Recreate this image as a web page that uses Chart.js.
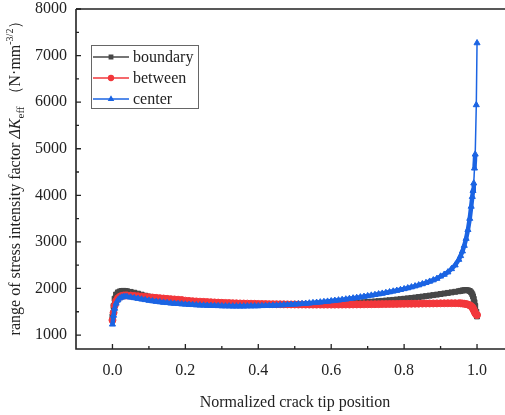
<!DOCTYPE html>
<html>
<head>
<meta charset="utf-8">
<script src="https://cdn.jsdelivr.net/npm/chart.js@4.4.1/dist/chart.umd.min.js"></script>
<style>
  html, body { margin: 0; padding: 0; background: #fff; }
  #wrap { width: 505px; height: 415px; }
</style>
</head>
<body>
<div id="wrap"><canvas id="myChart" width="505" height="415"></canvas></div>
<script>
// Crack tip positions (normalized), denser near both ends
const position = [
  0, 0.003, 0.006, 0.01, 0.015, 0.02, 0.025, 0.03, 0.035,
  0.04, 0.05, 0.06, 0.07, 0.08, 0.09,
  0.10, 0.11, 0.12, 0.13, 0.14, 0.15, 0.16, 0.17, 0.18, 0.19,
  0.20, 0.21, 0.22, 0.23, 0.24, 0.25, 0.26, 0.27, 0.28, 0.29,
  0.30, 0.31, 0.32, 0.33, 0.34, 0.35, 0.36, 0.37, 0.38, 0.39,
  0.40, 0.41, 0.42, 0.43, 0.44, 0.45, 0.46, 0.47, 0.48, 0.49,
  0.50, 0.51, 0.52, 0.53, 0.54, 0.55, 0.56, 0.57, 0.58, 0.59,
  0.60, 0.61, 0.62, 0.63, 0.64, 0.65, 0.66, 0.67, 0.68, 0.69,
  0.70, 0.71, 0.72, 0.73, 0.74, 0.75, 0.76, 0.77, 0.78, 0.79,
  0.80, 0.81, 0.82, 0.83, 0.84, 0.85, 0.86, 0.87, 0.88, 0.89,
  0.90, 0.91, 0.92, 0.93, 0.94, 0.95,
  0.955, 0.96, 0.965, 0.97, 0.975, 0.98, 0.984, 0.987, 0.989, 0.991, 0.993, 0.995, 0.998, 1.0
];

// range of stress intensity factor, N·mm^-3/2
const boundary = [
  1400, 1620, 1780, 1870, 1915, 1935, 1945, 1948, 1946,
  1940, 1926, 1908, 1888, 1866, 1844,
  1824, 1806, 1790, 1776, 1763, 1752, 1742, 1733, 1725, 1718,
  1712, 1706, 1701, 1696, 1692, 1688, 1684, 1681, 1678, 1675,
  1672, 1670, 1667, 1665, 1663, 1661, 1659, 1658, 1656, 1655,
  1654, 1653, 1652, 1651, 1650, 1650, 1649, 1649, 1649, 1649,
  1650, 1650, 1651, 1652, 1653, 1655, 1657, 1659, 1661, 1664,
  1667, 1670, 1673, 1677, 1681, 1685, 1689, 1694, 1699, 1704,
  1709, 1715, 1721, 1727, 1733, 1740, 1747, 1754, 1762, 1770,
  1778, 1787, 1796, 1805, 1815, 1825, 1835, 1846, 1857, 1868,
  1880, 1892, 1904, 1916, 1928, 1940,
  1948, 1956, 1962, 1964, 1960, 1945, 1915, 1875, 1830, 1775, 1705, 1625, 1500, 1400
];

const between = [
  1320, 1480, 1630, 1730, 1790, 1820, 1838, 1847, 1850,
  1850, 1846, 1840, 1833, 1826, 1819,
  1812, 1805, 1798, 1791, 1784, 1777, 1770, 1764, 1758, 1752,
  1738, 1732, 1726, 1721, 1716, 1712, 1708, 1704, 1700, 1696,
  1692, 1689, 1686, 1683, 1680, 1678, 1676, 1674, 1672, 1670,
  1668, 1666, 1665, 1663, 1662, 1661, 1660, 1659, 1658, 1657,
  1656, 1655, 1655, 1654, 1654, 1653, 1653, 1653, 1653, 1653,
  1653, 1653, 1654, 1654, 1655, 1655, 1656, 1657, 1658, 1659,
  1660, 1661, 1662, 1663, 1664, 1665, 1666, 1667, 1668, 1669,
  1670, 1671, 1672, 1673, 1674, 1675, 1676, 1677, 1678, 1679,
  1680, 1681, 1682, 1683, 1683, 1682,
  1680, 1677, 1672, 1665, 1655, 1640, 1620, 1595, 1570, 1540, 1505, 1470, 1440, 1430
];

const center = [
  1230, 1420, 1570, 1680, 1750, 1790, 1810, 1820, 1822,
  1820, 1810, 1797, 1783, 1769, 1755,
  1742, 1730, 1719, 1709, 1700, 1692, 1684, 1677, 1671, 1665,
  1659, 1654, 1649, 1645, 1641, 1637, 1634, 1631, 1628, 1626,
  1624, 1622, 1621, 1620, 1620, 1620, 1620, 1621, 1622, 1623,
  1625, 1627, 1629, 1632, 1635, 1638, 1642, 1646, 1650, 1655,
  1660, 1665, 1671, 1677, 1684, 1691, 1698, 1706, 1714, 1722,
  1731, 1740, 1749, 1759, 1769, 1780, 1791, 1802, 1814, 1826,
  1839, 1852, 1865, 1879, 1893, 1908, 1923, 1939, 1955, 1972,
  1990, 2009, 2029, 2050, 2072, 2096, 2122, 2150, 2180, 2212,
  2260, 2300, 2350, 2420, 2500, 2620,
  2700, 2800, 2920, 3070, 3260, 3500, 3760, 3970, 4100, 4260, 4580, 4880, 5940, 7270
];

const xTicks = [0, 0.2, 0.4, 0.6, 0.8, 1.0];
const xMinor = [0.1, 0.3, 0.5, 0.7, 0.9];
const yTicks = [1000, 2000, 3000, 4000, 5000, 6000, 7000, 8000];
const yMinor = [1500, 2500, 3500, 4500, 5500, 6500, 7500];

const serif = '"Liberation Serif", "DejaVu Serif", serif';
const ink = '#222';

// short segments sit inside a dense run of markers, so draw them wide
function segWidth(s) {
  const dx = s.p1.x - s.p0.x;
  const dy = s.p1.y - s.p0.y;
  return Math.sqrt(dx * dx + dy * dy) < 14 ? 4.5 : 1.5;
}

function series(label, values, color, style, order) {
  return {
    label: label,
    data: position.map((x, i) => ({ x: x, y: values[i] })),
    borderColor: color,
    backgroundColor: color,
    pointBackgroundColor: color,
    pointBorderColor: color,
    borderWidth: 1.5,
    segment: { borderWidth: segWidth },
    pointRadius: 3.5,
    pointBorderWidth: 1,
    pointStyle: style,
    order: order
  };
}

// axes frame, inward ticks, titles and boxed legend
const decorations = {
  id: 'decorations',
  afterDraw(chart) {
    const c = chart.ctx;
    const a = chart.chartArea;
    const xs = chart.scales.x;
    const ys = chart.scales.y;
    const w = chart.width;
    c.save();
    c.strokeStyle = ink;
    c.lineWidth = 1.6;
    c.beginPath();
    c.moveTo(a.left, a.top);
    c.lineTo(w, a.top);
    c.moveTo(a.left, a.top);
    c.lineTo(a.left, a.bottom);
    c.lineTo(w, a.bottom);
    c.stroke();

    c.lineWidth = 1.3;
    c.beginPath();
    xTicks.forEach(v => { const p = xs.getPixelForValue(v); c.moveTo(p, a.bottom); c.lineTo(p, a.bottom - 5); });
    xMinor.forEach(v => { const p = xs.getPixelForValue(v); c.moveTo(p, a.bottom); c.lineTo(p, a.bottom - 3); });
    yTicks.forEach(v => { const p = ys.getPixelForValue(v); c.moveTo(a.left, p); c.lineTo(a.left + 5, p); });
    yMinor.forEach(v => { const p = ys.getPixelForValue(v); c.moveTo(a.left, p); c.lineTo(a.left + 3, p); });
    c.stroke();

    // x title
    c.fillStyle = ink;
    c.font = '16px ' + serif;
    c.textAlign = 'center';
    c.textBaseline = 'middle';
    c.fillText('Normalized crack tip position', 295, 403);

    // y title with italic symbol, subscript and superscript
    const parts = [
      { t: 'range of stress intensity factor ', f: '16px ' + serif, dy: 0 },
      { t: 'ΔK', f: 'italic 16px ' + serif, dy: 0 },
      { t: 'eff', f: '11px ' + serif, dy: 4 },
      { t: ' （N·mm', f: '16px ' + serif, dy: 0 },
      { t: '-3/2', f: '10px ' + serif, dy: -7 },
      { t: '）', f: '16px ' + serif, dy: 0 }
    ];
    let total = 0;
    parts.forEach(p => { c.font = p.f; p.w = c.measureText(p.t).width; total += p.w; });
    c.translate(15, 174);
    c.rotate(-Math.PI / 2);
    c.textAlign = 'left';
    c.textBaseline = 'alphabetic';
    let x = -total / 2;
    parts.forEach(p => { c.font = p.f; c.fillText(p.t, x, 5 + p.dy); x += p.w; });
    c.restore();

    // legend box
    c.save();
    c.strokeStyle = '#666';
    c.lineWidth = 1;
    c.strokeRect(91.5, 45.5, 107, 63);
    c.font = '16px ' + serif;
    c.textBaseline = 'middle';
    c.textAlign = 'left';
    const rows = [57, 78, 99];
    chart.data.datasets.forEach((ds, i) => {
      const y = rows[i];
      c.strokeStyle = ds.borderColor;
      c.lineWidth = 1.3;
      c.beginPath();
      c.moveTo(93, y);
      c.lineTo(129, y);
      c.stroke();
      c.fillStyle = ds.borderColor;
      Chart.helpers.drawPoint(c, { pointStyle: ds.pointStyle, radius: 2.5, borderWidth: 0.5, rotation: 0 }, 111, y);
      c.fill();
      c.fillStyle = ink;
      c.fillText(ds.label, 133, y + 1);
    });
    c.restore();
  }
};

const ctx = document.getElementById('myChart');

new Chart(ctx, {
  type: 'line',
  data: {
    datasets: [
      series('boundary', boundary, '#474747', 'rect', 2),
      series('between', between, '#f2373b', 'circle', 1),
      series('center', center, '#1b64e3', 'triangle', 0)
    ]
  },
  options: {
    responsive: false,
    animation: false,
    devicePixelRatio: 1,
    layout: { padding: { top: 9, right: 0, left: 0, bottom: 0 } },
    plugins: {
      legend: { display: false },
      tooltip: { enabled: false }
    },
    scales: {
      x: {
        type: 'linear',
        min: -0.1,
        max: 1.063,
        grid: { display: false, drawTicks: false },
        border: { display: false },
        afterBuildTicks: s => { s.ticks = xTicks.map(v => ({ value: v })); },
        afterFit: s => { s.height = 66; s.paddingLeft = 0; s.paddingRight = 0; },
        ticks: {
          padding: 12,
          color: ink,
          font: { family: serif, size: 16 },
          callback: v => v.toFixed(1)
        }
      },
      y: {
        min: 700,
        max: 8000,
        grid: { display: false, drawTicks: false },
        border: { display: false },
        afterBuildTicks: s => { s.ticks = yTicks.map(v => ({ value: v })); },
        afterFit: s => { s.width = 76; s.paddingTop = 0; s.paddingBottom = 0; },
        ticks: {
          padding: 9,
          color: ink,
          font: { family: serif, size: 16 },
          callback: v => String(v)
        }
      }
    }
  },
  plugins: [decorations]
});
</script>
</body>
</html>
